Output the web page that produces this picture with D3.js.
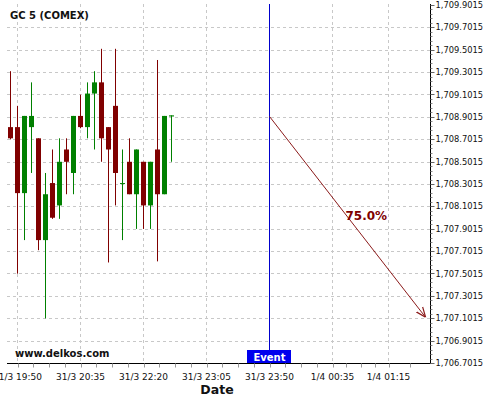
<!DOCTYPE html>
<html>
<head>
<meta charset="utf-8">
<script src="https://cdn.jsdelivr.net/npm/d3@7"></script>
<style>
  body { margin: 0; background: #fff; }
  text { font-family: "DejaVu Sans", sans-serif; }
</style>
</head>
<body>
<div id="chart"></div>
<script>
// candles (slot = 5 minute position on the axis, 0 = 31/3 19:50)
const slots  = [-1, 0, 1, 2, 3, 4, 5, 6, 7, 8, 9, 10, 11, 12, 13, 14, 15, 16, 17, 18, 19, 20, 21, 22];
const opens  = [1708.81, 1708.81, 1708.22, 1708.81, 1708.71, 1707.80, 1708.31, 1708.11, 1708.61, 1708.40, 1708.91, 1708.81,
                1709.11, 1709.21, 1708.81, 1709.00, 1708.31, 1708.50, 1708.21, 1708.50, 1708.11, 1708.61, 1708.21, 1708.905];
const highs  = [1709.31, 1709.00, 1708.91, 1709.21, 1708.71, 1708.40, 1708.61, 1708.71, 1708.71, 1708.91, 1709.10, 1709.21,
                1709.31, 1709.51, 1708.81, 1709.51, 1708.61, 1708.71, 1708.61, 1708.50, 1708.50, 1709.41, 1708.91, 1708.915];
const lows   = [1708.70, 1707.50, 1707.80, 1708.40, 1707.71, 1707.10, 1707.99, 1707.99, 1708.21, 1708.21, 1708.80, 1708.71,
                1708.61, 1708.50, 1707.60, 1708.11, 1707.80, 1708.21, 1707.90, 1707.90, 1707.90, 1707.61, 1708.21, 1708.50];
const closes = [1708.71, 1708.22, 1708.91, 1708.91, 1707.80, 1708.21, 1708.00, 1708.50, 1708.50, 1708.91, 1708.81, 1709.11,
                1709.21, 1708.71, 1708.61, 1708.40, 1708.31, 1708.21, 1708.61, 1708.11, 1708.50, 1708.21, 1708.91, 1708.915];

const xTickSlots  = [0, 9, 18, 27, 36, 45, 53];
const xTickLabels = ["31/3 19:50", "31/3 20:35", "31/3 22:20", "31/3 23:05", "31/3 23:50", "1/4 00:35", "1/4 01:15"];
const yTicks = [1706.7015, 1706.9015, 1707.1015, 1707.3015, 1707.5015, 1707.7015, 1707.9015, 1708.1015,
                1708.3015, 1708.5015, 1708.7015, 1708.9015, 1709.1015, 1709.3015, 1709.5015, 1709.7015, 1709.9015];

const eventSlot = 36;
const arrowFrom = [36, 1708.905];
const arrowTo   = [58.3, 1707.11];
const probLabel = "75.0%";

const width = 500, height = 400;
const svg = d3.select("#chart").append("svg")
    .attr("width", width)
    .attr("height", height);

let x = d3.scaleLinear().domain([-1.5, 59]).range([7, 430.5]);
let y = d3.scaleLinear().domain([1706.7015, 1709.9015]).range([363, 5]);
const plotTop = 4, plotBottom = 363.5;

// grid
svg.append("g").selectAll("line").data(yTicks.slice(1, -1)).enter()
    .append("line")
    .attr("x1", x(-1.5)).attr("x2", x(59))
    .attr("y1", d => Math.round(y(d)) + 0.5).attr("y2", d => Math.round(y(d)) + 0.5)
    .attr("stroke", "#c8c8c8").attr("stroke-dasharray", "3,3");

svg.append("g").selectAll("line").data(xTickSlots).enter()
    .append("line")
    .attr("x1", d => x(d)).attr("x2", d => x(d))
    .attr("y1", plotTop).attr("y2", plotBottom)
    .attr("stroke", "#c8c8c8").attr("stroke-dasharray", "3,3");

// candles
let candles = slots.map((s, i) => ({slot: s, o: opens[i], h: highs[i], l: lows[i], c: closes[i]}));
let color = d => d.c >= d.o ? "#008000" : "#800000";

svg.append("g").selectAll("line").data(candles).enter()
    .append("line")
    .attr("x1", d => x(d.slot)).attr("x2", d => x(d.slot))
    .attr("y1", d => y(d.h)).attr("y2", d => y(d.l))
    .attr("stroke", color).attr("stroke-width", 1);

svg.append("g").selectAll("rect").data(candles).enter()
    .append("rect")
    .attr("x", d => x(d.slot) - 2.5)
    .attr("width", 5)
    .attr("y", d => y(Math.max(d.o, d.c)))
    .attr("height", d => Math.max(1, Math.abs(y(d.o) - y(d.c))))
    .attr("fill", color);

// event line
svg.append("line")
    .attr("x1", x(eventSlot)).attr("x2", x(eventSlot))
    .attr("y1", plotTop).attr("y2", plotBottom)
    .attr("stroke", "#0000cc").attr("stroke-width", 1);

// forecast arrow
svg.append("defs").append("marker")
    .attr("id", "head")
    .attr("viewBox", "0 0 10 10")
    .attr("refX", 10).attr("refY", 5)
    .attr("markerWidth", 10).attr("markerHeight", 10)
    .attr("markerUnits", "userSpaceOnUse")
    .attr("orient", "auto")
    .append("path")
    .attr("d", "M0,1 L10,5 L0,9")
    .attr("fill", "none")
    .attr("stroke", "#8b1a1a")
    .attr("stroke-width", 1.2);

svg.append("line")
    .attr("x1", x(arrowFrom[0])).attr("y1", y(arrowFrom[1]))
    .attr("x2", x(arrowTo[0])).attr("y2", y(arrowTo[1]))
    .attr("stroke", "#8b1a1a").attr("stroke-width", 1)
    .attr("marker-end", "url(#head)");

svg.append("text")
    .attr("x", x(47) - 1).attr("y", y(1708.02) + 5)
    .attr("fill", "#800000")
    .style("font-size", "12px").style("font-weight", "bold")
    .text(probLabel);

// axes
svg.append("line")
    .attr("x1", x(-1.5)).attr("x2", x(59))
    .attr("y1", plotBottom).attr("y2", plotBottom)
    .attr("stroke", "#000");
svg.append("line")
    .attr("x1", x(59)).attr("x2", x(59))
    .attr("y1", plotTop).attr("y2", plotBottom)
    .attr("stroke", "#000");

// y ticks (major + 4 minor)
let minorY = [];
yTicks.slice(0, -1).forEach(t => { for (let k = 1; k < 5; k++) minorY.push(t + k * 0.04); });
svg.append("g").selectAll("line").data(minorY).enter()
    .append("line")
    .attr("x1", x(59)).attr("x2", x(59) + 2)
    .attr("y1", d => Math.round(y(d)) + 0.5).attr("y2", d => Math.round(y(d)) + 0.5)
    .attr("stroke", "#888");
svg.append("g").selectAll("line").data(yTicks).enter()
    .append("line")
    .attr("x1", x(59)).attr("x2", x(59) + 4)
    .attr("y1", d => Math.round(y(d)) + 0.5).attr("y2", d => Math.round(y(d)) + 0.5)
    .attr("stroke", "#666");
svg.append("g").selectAll("text").data(yTicks).enter()
    .append("text")
    .attr("x", x(59) + 5)
    .attr("y", d => y(d) + 3)
    .style("font-size", "8.3px")
    .attr("fill", "#111")
    .text(d => d3.format(",.4f")(d));

// x ticks (major + minor every quarter)
let minorX = [];
xTickSlots.slice(0, -1).forEach((t, i) => {
    let step = (xTickSlots[i + 1] - t) / 4;
    for (let k = 0; k < 4; k++) minorX.push(t + k * step);
});
minorX.push(xTickSlots[xTickSlots.length - 1]);
minorX.push(56);
svg.append("g").selectAll("line").data(minorX).enter()
    .append("line")
    .attr("x1", d => Math.round(x(d)) + 0.5).attr("x2", d => Math.round(x(d)) + 0.5)
    .attr("y1", plotBottom).attr("y2", plotBottom + 4)
    .attr("stroke", "#999");
svg.append("g").selectAll("text").data(xTickSlots).enter()
    .append("text")
    .attr("x", d => x(d))
    .attr("y", 380)
    .style("text-anchor", "middle")
    .style("font-size", "9px")
    .attr("fill", "#111")
    .text((d, i) => xTickLabels[i]);

// event label
let ev = svg.append("g");
ev.append("rect")
    .attr("x", x(eventSlot) - 22.5).attr("y", 350)
    .attr("width", 44).attr("height", 13)
    .attr("fill", "#0000ee");
ev.append("text")
    .attr("x", x(eventSlot)).attr("y", 360.5)
    .style("text-anchor", "middle")
    .style("font-size", "10px").style("font-weight", "bold")
    .attr("fill", "#fff")
    .text("Event");

// titles
svg.append("text")
    .attr("x", 10).attr("y", 19)
    .style("font-size", "10px").style("font-weight", "bold")
    .attr("fill", "#111")
    .text("GC 5 (COMEX)");

svg.append("text")
    .attr("x", 15).attr("y", 357)
    .style("font-size", "10px").style("font-weight", "bold")
    .attr("fill", "#111")
    .text("www.delkos.com");

svg.append("text")
    .attr("x", 217).attr("y", 394)
    .style("text-anchor", "middle")
    .style("font-size", "12.5px").style("font-weight", "bold")
    .attr("fill", "#111")
    .text("Date");
</script>
</body>
</html>
